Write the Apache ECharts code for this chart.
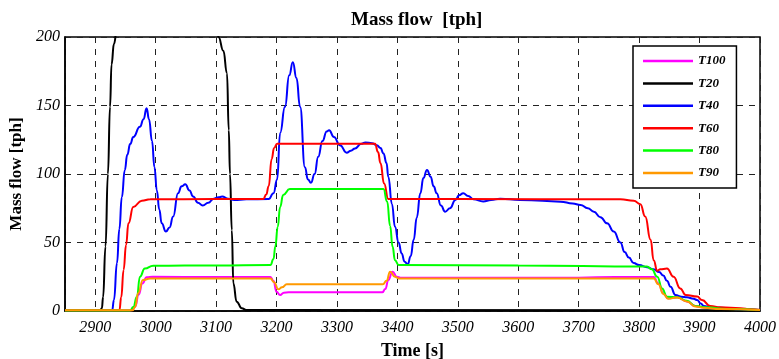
<!DOCTYPE html>
<html>
<head>
<meta charset="utf-8">
<script src="https://cdn.jsdelivr.net/npm/echarts@6/dist/echarts.min.js"></script>
<style>html,body{margin:0;padding:0;background:#fff;}#c{width:779px;height:359px;}</style>
</head>
<body>
<div id="c"></div>
<script>
var seriesNames = ['T100', 'T20', 'T40', 'T60', 'T80', 'T90'];
var seriesColors = ['#ff00ff', '#000000', '#0000ff', '#ff0000', '#00ff00', '#ff9900'];

var T100 = [[2850,0.5],[2960,0.5],[2966,3],[2972,12],[2978,20],[2985,24.6],[2995,25],[3100,24.8],[3190,24.8],[3195,22],[3200,14],[3206,11.7],[3212,13.4],[3220,13.6],[3375,13.6],[3380,16],[3385,22.6],[3392,28.7],[3399,25],[3405,24.3],[3700,24.3],[3760,24.8],[3824,24.8],[3832,20],[3840,13],[3848,9.3],[3863,10],[3879,7],[3893,3.6],[3907,2.7],[3934,1.5],[4000,0.7]];

var T20 = [[2850,0.3],[2908,0.3],[2911,2],[2913,10],[2917,47],[2921,100],[2924.5,149],[2927,180],[2931,195],[2936,206],[2945,215],[3090,215],[3100,208],[3104,200],[3112,190],[3118,173.5],[3121,132],[3123,100],[3126,59],[3128.6,20],[3134,6.8],[3142.5,2],[3150,0.7],[4000,0.5]];

var T40 = [[2850,0.5],[2928,0.5],[2931,8],[2936,35],[2940,60],[2944,83],[2949,103],[2953,114],[2958,122],[2963,127],[2974,134.5],[2980,140],[2985,148],[2989,140],[2994,124],[2998,105],[3002,88],[3006,74],[3010,64],[3017,58],[3023,61],[3029,69],[3037,86],[3043,91],[3049,92.5],[3056,88],[3062,83.5],[3070,79],[3078,77],[3087,79],[3096,82],[3104,83],[3110,83.5],[3120,82],[3130,81],[3150,81.5],[3187,81.7],[3195,86],[3201,96],[3206,130],[3214,149],[3221,172],[3227,181.5],[3233,170],[3239,149],[3247,105],[3252,96],[3257,93.6],[3263,100],[3269,112.6],[3276,124],[3283,131],[3287,132],[3295,127],[3305,121],[3316,115.6],[3323,117],[3330,118.7],[3340,122],[3347,123],[3358,122.5],[3366,121],[3372,119],[3377,115],[3382,108],[3385,98],[3391,78],[3396,61.5],[3402,50],[3407,42],[3412,36],[3417,34],[3422,40],[3427,52],[3432,68],[3438,86],[3443,97],[3449,103],[3455,98],[3460,91],[3465,86],[3472,77],[3479,72.5],[3487,75],[3496,81],[3502,84.5],[3509,86],[3517,84],[3526,81.5],[3542,80],[3555,81],[3570,82],[3603,81],[3640,80.5],[3670,79.8],[3690,78.5],[3703,77.4],[3715,75],[3725,72.5],[3736,68.5],[3747,64],[3758,58],[3769,50],[3776,43],[3783,39],[3791,35],[3800,33.5],[3813,32],[3824,30.4],[3833,28.5],[3840,26],[3846,22],[3852,17.7],[3860,11.7],[3870,10.4],[3879,10],[3890,9],[3896,8],[3902,5.5],[3907,3.6],[3920,2.8],[3934,2.4],[3968,1.2],[4000,0.7]];

var T60 = [[2850,0.5],[2940,0.5],[2943,10],[2947,30],[2951,48],[2955,64],[2963,76],[2977,80.5],[2991,81.5],[3100,81.7],[3178,81.7],[3183,85],[3187,91],[3192,111],[3196,119],[3201,122],[3363,122],[3368,116],[3372,108],[3378,93],[3385,81.7],[3500,81.7],[3769,81.5],[3791,80.5],[3802,78],[3810,69],[3819,52],[3824,37],[3830,29.4],[3835,30.4],[3846,31],[3857,25],[3868,16.5],[3877,11.7],[3896,10.5],[3904,8],[3918,3.6],[3934,2.7],[3968,2],[3984,1.2],[4000,0.7]];

var T80 = [[2850,0.3],[2958,0.3],[2963,3],[2969,10.4],[2974,25],[2982,31],[2996,33],[3100,33.3],[3190,33.6],[3195,38],[3198,47],[3202,61.5],[3206,76],[3211,84.7],[3222,89],[3377,89],[3383,80],[3388,62],[3392,47],[3396,37],[3402,33.6],[3600,33.3],[3813,32.4],[3821,30.4],[3830,25],[3838,16.5],[3846,10.4],[3863,10],[3879,7.5],[3893,3.6],[3912,2.7],[3945,1.5],[4000,0.7]];

var T90 = [[2850,0.5],[2962,0.5],[2966,3],[2971,13],[2979,22.6],[2991,23.8],[3100,23.8],[3190,23.8],[3196,21],[3203,15.8],[3209,17.3],[3217,19.5],[3376,19.5],[3382,22],[3388,28.7],[3396,25],[3402,23.8],[3824,23.8],[3832,19.5],[3840,12.5],[3848,9],[3863,9.8],[3879,7],[3893,3.3],[3907,2.4],[3934,1.4],[4000,0.7]];

var seriesData = [T100, T20, T40, T60, T80, T90];

var xMin = 2850, xMax = 4000, xStep = 100;
var yMin = 0, yMax = 200, yStep = 50;

var serif = '"Liberation Serif", "Times New Roman", serif';

var chart = echarts.init(document.getElementById('c'));
chart.setOption({
  animation: false,
  backgroundColor: '#ffffff',
  title: {
    text: 'Mass flow  [tph]',
    left: 346,
    top: 6,
    textStyle: { fontFamily: serif, fontWeight: 'bold', fontSize: 19, color: '#000' }
  },
  grid: {
    left: 65, right: 19, top: 37, bottom: 48,
    containLabel: false, outerBoundsMode: 'none',
    show: true, borderColor: '#000', borderWidth: 1.5, backgroundColor: 'transparent'
  },
  legend: {
    orient: 'vertical',
    left: 633, top: 46,
    data: seriesNames,
    icon: 'rect',
    itemWidth: 50, itemHeight: 2.5,
    itemGap: 8.4,
    padding: [8, 11, 8, 10],
    backgroundColor: '#fff',
    borderColor: '#000', borderWidth: 1.5, borderRadius: 0,
    textStyle: { fontFamily: serif, fontStyle: 'italic', fontWeight: 'bold', fontSize: 13, color: '#000', lineHeight: 14 }
  },
  xAxis: {
    type: 'value',
    min: xMin, max: xMax,
    splitNumber: 12, minInterval: xStep, maxInterval: xStep,
    name: 'Time [s]',
    nameLocation: 'middle', nameGap: 31,
    nameTextStyle: { fontFamily: serif, fontWeight: 'bold', fontSize: 18, color: '#000' },
    axisLine: { show: true, lineStyle: { color: '#000', width: 1.5 } },
    axisTick: { show: false },
    axisLabel: {
      showMinLabel: false, margin: 9, fontFamily: serif, fontStyle: 'italic', fontSize: 16, color: '#000',
      formatter: function (v) { return String(v); }
    },
    splitLine: { show: true, lineStyle: { color: '#222', type: [6, 6], width: 1 } }
  },
  yAxis: {
    type: 'value',
    min: yMin, max: yMax, interval: yStep,
    name: 'Mass flow [tph]',
    nameLocation: 'middle', nameGap: 31,
    nameTextStyle: { fontFamily: serif, fontWeight: 'bold', fontSize: 17, color: '#000' },
    axisLine: { show: true, lineStyle: { color: '#000', width: 1.5 } },
    axisTick: { show: false },
    axisLabel: { margin: 5, fontFamily: serif, fontStyle: 'italic', fontSize: 16, color: '#000' },
    splitLine: { show: true, lineStyle: { color: '#222', type: [6, 6], width: 1 } }
  },
  series: seriesNames.map(function (n, i) {
    return {
      name: n, type: 'line', data: seriesData[i],
      showSymbol: false, symbol: 'none',
      smooth: 0.5, smoothMonotone: 'x',
      clip: true,
      lineStyle: { color: seriesColors[i], width: 2 },
      itemStyle: { color: seriesColors[i] }
    };
  })
});
</script>
</body>
</html>
